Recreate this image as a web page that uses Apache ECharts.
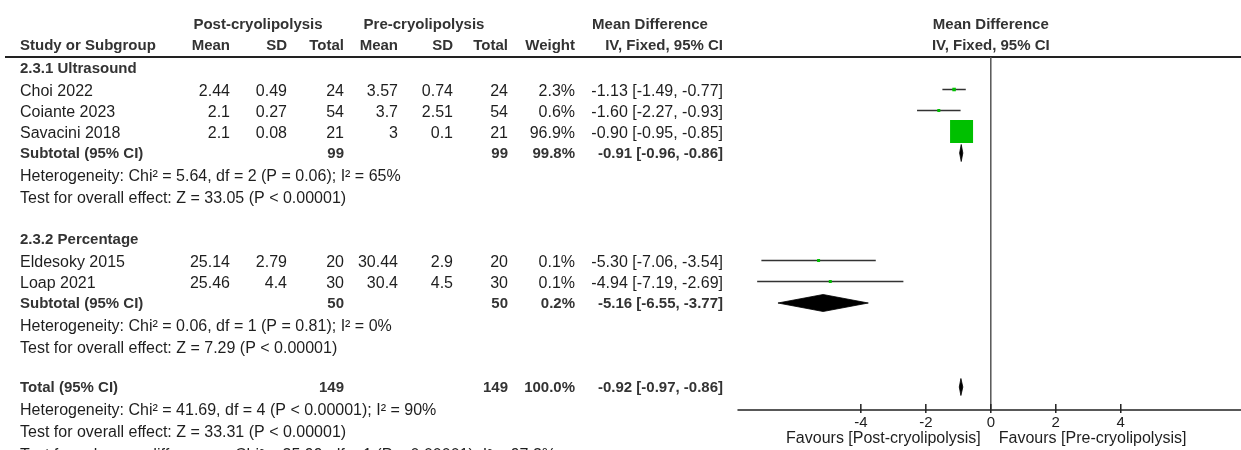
<!DOCTYPE html>
<html><head><meta charset="utf-8">
<script src="https://cdn.jsdelivr.net/npm/echarts@6/dist/echarts.min.js"></script>
<style>html,body{margin:0;padding:0;background:#fff}#c{width:1241px;height:450px}</style>
</head><body><div id="c"></div>
<script>
// ---------------- data ----------------
const studies    = ['Choi 2022','Coiante 2023','Savacini 2018','Eldesoky 2015','Loap 2021'];
const studyGroup = [0,0,0,1,1];
const postMean   = ['2.44','2.1','2.1','25.14','25.46'];
const postSD     = ['0.49','0.27','0.08','2.79','4.4'];
const postN      = [24,54,21,20,30];
const preMean    = ['3.57','3.7','3','30.44','30.4'];
const preSD      = ['0.74','2.51','0.1','2.9','4.5'];
const preN       = [24,54,21,20,30];
const weight     = [2.3,0.6,96.9,0.1,0.1];
const md         = [-1.13,-1.60,-0.90,-5.30,-4.94];
const ciLow      = [-1.49,-2.27,-0.95,-7.06,-7.19];
const ciHigh     = [-0.77,-0.93,-0.85,-3.54,-2.69];

const groups      = ['2.3.1 Ultrasound','2.3.2 Percentage'];
const groupN      = [99,50];
const groupWeight = [99.8,0.2];
const groupMD     = [-0.91,-5.16];
const groupLow    = [-0.96,-6.55];
const groupHigh   = [-0.86,-3.77];
const groupHet    = ['Heterogeneity: Chi² = 5.64, df = 2 (P = 0.06); I² = 65%',
                     'Heterogeneity: Chi² = 0.06, df = 1 (P = 0.81); I² = 0%'];
const groupZ      = ['Test for overall effect: Z = 33.05 (P < 0.00001)',
                     'Test for overall effect: Z = 7.29 (P < 0.00001)'];

const totalN = 149, totalWeight = 100.0, totalMD = -0.92, totalLow = -0.97, totalHigh = -0.86;
const totalHet = 'Heterogeneity: Chi² = 41.69, df = 4 (P < 0.00001); I² = 90%';
const totalZ   = 'Test for overall effect: Z = 33.31 (P < 0.00001)';
const subgroupTest = 'Test for subgroup differences: Chi² = 35.99, df = 1 (P < 0.00001), I² = 97.2%';

const xTicks = [-4,-2,0,2,4];
const favLeft = 'Favours [Post-cryolipolysis]';
const favRight = 'Favours [Pre-cryolipolysis]';
const headTop = ['Post-cryolipolysis','Pre-cryolipolysis','Mean Difference'];
const headCols = ['Study or Subgroup','Mean','SD','Total','Mean','SD','Total','Weight','IV, Fixed, 95% CI'];

// ---------------- layout ----------------
const FONT = '"Liberation Sans", Arial, sans-serif';
const REG = 16, BOLD = 15;
const C_TXT = '#1e1e1e', C_BOLD = '#333';
const X_MIN = -7.78, X_MAX = 7.70;
const AXIS_Y = 410, RULE_Y = 57;
const COL = {name:20, m1:230, s1:287, n1:344, m2:398, s2:453, n2:508, w:575, ci:723};

const rows = [];
groups.forEach((g, gi) => {
  rows.push({kind:'group', gi});
  studies.forEach((s, i) => { if (studyGroup[i] === gi) rows.push({kind:'study', i}); });
  rows.push({kind:'subtotal', gi});
  rows.push({kind:'het', text: groupHet[gi]});
  rows.push({kind:'test', text: groupZ[gi]});
});
rows.push({kind:'total'});
rows.push({kind:'het', text: totalHet});
rows.push({kind:'test', text: totalZ});
rows.push({kind:'subtest', text: subgroupTest});
const GAP = {'test>group':41,'group>study':23,'study>study':21,'study>subtotal':19.5,
  'subtotal>het':23.5,'het>test':22,'test>total':38.5,'total>het':23,'test>subtest':23.5};
let yy = 69;
rows.forEach((r, k) => { if (k > 0) yy += GAP[rows[k-1].kind + '>' + r.kind]; r.y = yy; });

const fmtCI = (m, l, h) => `${m.toFixed(2)} [${l.toFixed(2)}, ${h.toFixed(2)}]`;
const fmtW = w => `${w.toFixed(1)}%`;

function T(x, y, s, align, bold) {
  return {type:'text', x, y, silent:true, style:{text:String(s), align: align||'left', verticalAlign:'middle',
    textAlign: align||'left', textVerticalAlign:'middle',
    fill: bold ? C_BOLD : C_TXT, fontFamily: FONT, fontSize: bold ? BOLD : REG, fontWeight: bold ? 'bold' : 'normal'}};
}

const g = [];
// header
g.push(T(258, 25, headTop[0], 'center', true));
g.push(T(424, 25, headTop[1], 'center', true));
g.push(T(650, 25, headTop[2], 'center', true));
g.push(T(COL.name, 46, headCols[0], 'left', true));
['m1','s1','n1','m2','s2','n2','w','ci'].forEach((k, j) => g.push(T(COL[k], 46, headCols[j+1], 'right', true)));
g.push({type:'line', silent:true, shape:{x1:5, y1:RULE_Y, x2:1241, y2:RULE_Y}, style:{stroke:'#222', lineWidth:2}});

const studyPts = [], diamonds = [];
rows.forEach(r => {
  if (r.kind === 'group') g.push(T(COL.name, r.y, groups[r.gi], 'left', true));
  else if (r.kind === 'study') {
    const i = r.i;
    g.push(T(COL.name, r.y, studies[i], 'left'));
    g.push(T(COL.m1, r.y, postMean[i], 'right'));
    g.push(T(COL.s1, r.y, postSD[i], 'right'));
    g.push(T(COL.n1, r.y, postN[i], 'right'));
    g.push(T(COL.m2, r.y, preMean[i], 'right'));
    g.push(T(COL.s2, r.y, preSD[i], 'right'));
    g.push(T(COL.n2, r.y, preN[i], 'right'));
    g.push(T(COL.w, r.y, fmtW(weight[i]), 'right'));
    g.push(T(COL.ci, r.y, fmtCI(md[i], ciLow[i], ciHigh[i]), 'right'));
    studyPts.push([ciLow[i], ciHigh[i], md[i], weight[i], r.y - 2.5]);
  } else if (r.kind === 'subtotal') {
    const gi = r.gi;
    g.push(T(COL.name, r.y, 'Subtotal (95% CI)', 'left', true));
    g.push(T(COL.n1, r.y, groupN[gi], 'right', true));
    g.push(T(COL.n2, r.y, groupN[gi], 'right', true));
    g.push(T(COL.w, r.y, fmtW(groupWeight[gi]), 'right', true));
    g.push(T(COL.ci, r.y, fmtCI(groupMD[gi], groupLow[gi], groupHigh[gi]), 'right', true));
    diamonds.push([groupLow[gi], groupHigh[gi], groupMD[gi], r.y - 0.5]);
  } else if (r.kind === 'total') {
    g.push(T(COL.name, r.y, 'Total (95% CI)', 'left', true));
    g.push(T(COL.n1, r.y, totalN, 'right', true));
    g.push(T(COL.n2, r.y, totalN, 'right', true));
    g.push(T(COL.w, r.y, fmtW(totalWeight), 'right', true));
    g.push(T(COL.ci, r.y, fmtCI(totalMD, totalLow, totalHigh), 'right', true));
    diamonds.push([totalLow, totalHigh, totalMD, r.y - 0.5]);
  } else {
    g.push(T(COL.name, r.y, r.text, 'left'));
  }
});

const maxW = Math.max(...weight);
const chart = echarts.init(document.getElementById('c'));
chart.setOption({
  animation:false,
  grid:{left:738, right:0, top:0, bottom:450-AXIS_Y},
  xAxis:{type:'value', min:X_MIN, max:X_MAX, splitLine:{show:false},
    axisLine:{show:true, onZero:false, lineStyle:{color:'#222', width:1.5}},
    axisTick:{show:false},
    axisLabel:{customValues:xTicks, color:C_TXT, fontFamily:FONT, fontSize:15, margin:5}},
  yAxis:{type:'value', min:0, max:AXIS_Y, inverse:true, show:false},
  series:[
    {type:'custom', silent:true, clip:false, data:[[0]], renderItem:(p, api) => {
      const a = api.coord([api.value(0), RULE_Y]), b = api.coord([api.value(0), AXIS_Y]);
      return {type:'line', shape:{x1:a[0], y1:a[1], x2:b[0], y2:b[1]}, style:{stroke:'#555', lineWidth:1.5}};
    }},
    {type:'custom', silent:true, clip:false, data:xTicks.map(v => [v]), renderItem:(p, api) => {
      const a = api.coord([api.value(0), AXIS_Y]);
      return {type:'line', shape:{x1:a[0], y1:a[1]-6, x2:a[0], y2:a[1]+3}, style:{stroke:'#222', lineWidth:1.5}};
    }},
    {type:'custom', silent:true, clip:false, data:studyPts, renderItem:(p, api) => {
      const y = api.value(4);
      const l = api.coord([api.value(0), y]), h = api.coord([api.value(1), y]), m = api.coord([api.value(2), y]);
      const s = Math.max(3, 23 * Math.sqrt(api.value(3) / maxW));
      return {type:'group', children:[
        {type:'line', shape:{x1:l[0], y1:l[1], x2:h[0], y2:h[1]}, style:{stroke:'#333', lineWidth:1.5}},
        {type:'rect', shape:{x:m[0]-s/2, y:m[1]-s/2, width:s, height:s}, style:{fill:'#00c000'}}
      ]};
    }},
    {type:'custom', silent:true, clip:false, data:diamonds, renderItem:(p, api) => {
      const y = api.value(3);
      const l = api.coord([api.value(0), y]), h = api.coord([api.value(1), y]), m = api.coord([api.value(2), y]);
      const d = 8.5;
      return {type:'polygon', shape:{points:[[l[0], l[1]], [m[0], m[1]-d], [h[0], h[1]], [m[0], m[1]+d]]},
        style:{fill:'#000', stroke:'#000', lineWidth:0.8}};
    }}
  ]
});
const x0 = chart.convertToPixel({xAxisIndex:0}, 0);
g.push(T(x0, 25, headTop[2], 'center', true));
g.push(T(x0, 46, headCols[8], 'center', true));
g.push(T(x0 - 10, 439, favLeft, 'right'));
g.push(T(x0 + 8, 439, favRight, 'left'));
chart.setOption({graphic:{elements:g}});
</script>
</body></html>
